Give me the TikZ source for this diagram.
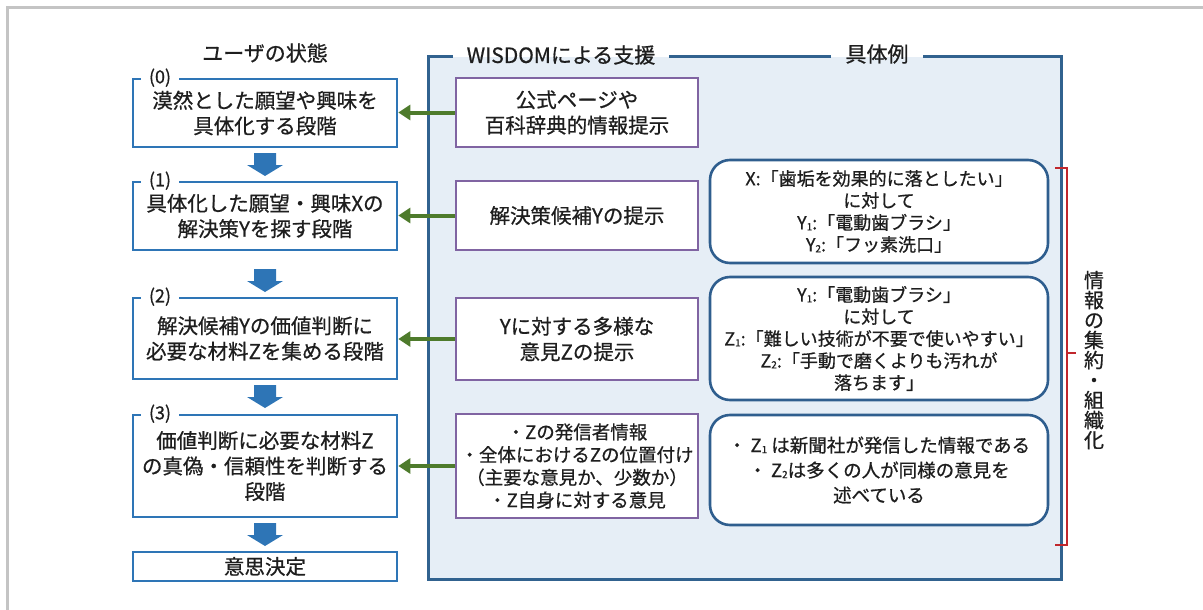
\documentclass[tikz,border=0pt]{standalone}
\usepackage{fontspec}
\setmainfont{Noto Sans CJK JP}[FakeBold=0.7]
\usetikzlibrary{arrows.meta,calc}
\definecolor{txt}{HTML}{1E1E1E}
\definecolor{ublue}{HTML}{2E75B6}
\definecolor{pnlborder}{HTML}{31628F}
\definecolor{pnlfill}{HTML}{E6EEF6}
\definecolor{purp}{HTML}{8064A2}
\definecolor{grn}{HTML}{4E7B2C}
\definecolor{redbr}{HTML}{C0272D}
\definecolor{rbord}{HTML}{2F5E8E}
\definecolor{frame}{HTML}{C4C4C4}
\newcommand\myfA{\fontsize{20.5}{25.5}\selectfont}
\newcommand\myfB{\fontsize{18.5}{22.7}\selectfont}
\newcommand\myfC{\fontsize{18}{22}\selectfont}
\newcommand\myfD{\fontsize{18.5}{25}\selectfont}
\newcommand\myfT{\fontsize{21}{21}\selectfont}
\newcommand\myfL{\fontsize{18}{18}\selectfont}
\newcommand\myfV{\fontsize{20}{20}\selectfont}
\newcommand\lo[1]{\raisebox{-0.1ex}{\fontsize{10}{10}\selectfont #1}}
\begin{document}
\begin{tikzpicture}[x=1pt,y=-1pt,
  ubox/.style={draw=ublue, line width=2.6pt, fill=white, minimum width=264pt, inner sep=0pt, align=center, font=\myfA, text=txt},
  pbox/.style={draw=purp, line width=2.6pt, fill=white, minimum width=242pt, inner sep=0pt, align=center, font=\myfA, text=txt},
  rbox/.style={draw=rbord, line width=2.6pt, fill=white, rounded corners=20pt, minimum width=338pt, inner sep=0pt, align=center, font=\myfC, text=txt},
  stlabel/.style={fill=white, inner xsep=8pt, inner ysep=1pt, font=\myfL, text=txt},
  title/.style={font=\myfT, text=txt, inner xsep=14pt, inner ysep=2pt},
  garrow/.style={draw=grn, line width=4pt, -{Triangle[length=12pt,width=15pt]}},
  pnlline/.style={draw=pnlborder, line width=2.8pt},
  brk/.style={draw=redbr, line width=2.8pt},
  blockfill/.style={fill=ublue}
]
\useasboundingbox (0,0) rectangle (1203,610);
% gray frame
\draw[draw=frame, line width=3pt] (7,610) -- (7,8) -- (1203,8);

% panel
\node[fill=pnlfill, draw=none, minimum width=632pt, minimum height=522pt, inner sep=0pt] (panel) at (745,318) {};
\node[title] (tW) at (561,55) {WISDOMによる支援};
\node[title] (tK) at (877,54) {具体例};
\draw[pnlline] (tW.west |- panel.north) -- (panel.north west) -- (panel.south west) -- (panel.south east) -- (panel.north east) -- (tK.east |- panel.north);
\draw[pnlline] (tW.east |- panel.north) -- (tK.west |- panel.north);

% left column
\node[title] (tU) at (265,53) {ユーザの状態};
\node[ubox, minimum height=68pt] (b0) at (265,113) {漠然とした願望や興味を\\具体化する段階};
\node[ubox, minimum height=68pt] (b1) at (265,216) {具体化した願望・興味Xの\\解決策Yを探す段階};
\node[ubox, minimum height=81pt] (b2) at (265,338.5) {解決候補Yの価値判断に\\必要な材料Zを集める段階};
\node[ubox, minimum height=102pt] (b3) at (265,466) {価値判断に必要な材料Z\\の真偽・信頼性を判断する\\段階};
\node[ubox, minimum height=29pt] (b4) at (265,566.5) {意思決定};
\coordinate (lx) at (160,0);
\node[stlabel] (l0) at (lx |- b0.north) {(0)};
\node[stlabel] (l1) at (lx |- b1.north) {(1)};
\node[stlabel] (l2) at (lx |- b2.north) {(2)};
\node[stlabel] (l3) at (lx |- b3.north) {(3)};

% block arrows
\foreach \yt in {153,269,385,523}{
  \fill[blockfill] (254,\yt) -- ++(22,0) -- ++(0,12) -- ++(7,0) -- ++(-18,11) -- ++(-18,-11) -- ++(7,0) -- cycle;
}

% middle column
\node[pbox, minimum height=69pt] (pA) at (577,112.5) {\fontsize{20.5}{26.5}\selectfont 公式ページや\\百科辞典的情報提示};
\node[pbox, minimum height=69pt] (pB) at (577,215.5) {解決策候補Yの提示};
\node[pbox, minimum height=82pt] (pC) at (577,339) {Yに対する多様な\\意見Zの提示};
\node[pbox, minimum height=104pt, font=\myfB] (pD) at (577,466) {・Zの発信者情報\\・全体におけるZの位置付け\\（主要な意見か、少数か）\\・Z自身に対する意見};

% green arrows
\draw[garrow] (pA.west) -- (pA.west -| b0.east);
\draw[garrow] (pB.west) -- (pB.west -| b1.east);
\draw[garrow] (pC.west) -- (pC.west -| b2.east);
\draw[garrow] (pD.west) -- (pD.west -| b3.east);

% right column
\node[rbox, minimum height=103pt] (r1) at (879,211.5) {X:「歯垢を効果的に落としたい」\\に対して\\Y\lo{1}:「電動歯ブラシ」\\Y\lo{2}:「フッ素洗口」};
\node[rbox, minimum height=123pt] (r2) at (879,338.5) {Y\lo{1}:「電動歯ブラシ」\\に対して\\Z\lo{1}:「難しい技術が不要で使いやすい」\\Z\lo{2}:「手動で磨くよりも汚れが\\落ちます」};
\node[rbox, minimum height=110pt, font=\myfD] (r3) at (879,470) {・ Z\lo{1} は新聞社が発信した情報である\\・ Z\lo{2}は多くの人が同様の意見を\\述べている};

% red bracket
\coordinate (bt) at (1067,168);
\coordinate (bb) at (1067,545);
\coordinate (bm) at (1067,353);
\draw[brk] ($(bt)+(-12,0)$) -- (bt) -- (bb) -- ($(bb)+(-12,0)$);
\draw[brk] (bm) -- ++(9,0);
\node[font=\myfV, text=txt, align=center, inner sep=0pt] (vt) at (1094,360) {情\\報\\の\\集\\約\\・\\組\\織\\化};
\end{tikzpicture}
\end{document}
